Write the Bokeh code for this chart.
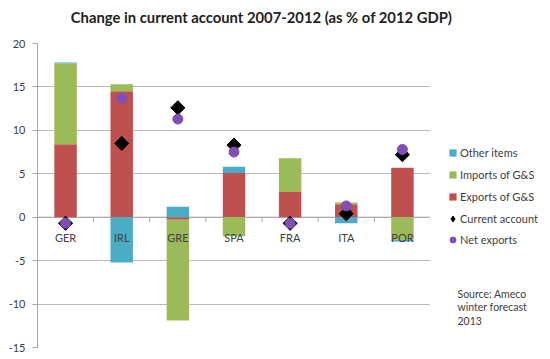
from bokeh.plotting import figure
from bokeh.layouts import row, column
from bokeh.models import (ColumnDataSource, FactorRange, Range1d, FixedTicker,
                          Legend, LegendItem, Label, Span)
from bokeh.core.properties import value
from bokeh.embed import file_html
from bokeh.resources import INLINE
import math

cats = ["GER", "IRL", "GRE", "SPA", "FRA", "ITA", "POR"]
exports = [8.4, 14.5, -0.3, 5.1, 2.9, 1.5, 5.7]
imports = [9.3, 0.8, -11.6, -2.2, 3.9, 0.2, -2.6]
other = [0.1, -5.2, 1.2, 0.7, 0.0, -0.7, -0.2]
current = [-0.7, 8.5, 12.6, 8.3, -0.7, 0.4, 7.2]
net = [-0.7, 13.7, 11.3, 7.5, -0.7, 1.3, 7.8]
yticks = [-15, -10, -5, 0, 5, 10, 15, 20]
title_text = "Change in current account 2007-2012 (as % of 2012 GDP)"
source_text = "Source: Ameco\nwinter forecast\n2013"

FONT = "Lato"
TXT = "#404040"
C_EXP, C_IMP, C_OTH, C_NET = "#C0504D", "#9BBB59", "#4BACC6", "#7F4FB5"

pos = [0.0] * len(cats)
neg = [0.0] * len(cats)


def stack(vals):
    b, t = [], []
    for i, v in enumerate(vals):
        if v >= 0:
            b.append(pos[i]); pos[i] += v; t.append(pos[i])
        else:
            b.append(neg[i]); neg[i] += v; t.append(neg[i])
    return b, t


eb, et = stack(exports)
ib, it = stack(imports)
ob, ot = stack(other)


def blank(w, h):
    f = figure(x_range=Range1d(0, 1), y_range=Range1d(0, 1), width=w, height=h,
               output_backend="svg", toolbar_location=None,
               min_border_left=0, min_border_right=0, min_border_top=0,
               min_border_bottom=0)
    f.axis.visible = False
    f.grid.visible = False
    f.outline_line_color = None
    return f


# Title strip
TH = 30
t = blank(550, TH)
t.add_layout(Label(x=261, y=TH - 16, x_units="screen", y_units="screen",
                   text=title_text, text_align="center", text_baseline="middle",
                   text_font=FONT, text_font_size="14.8px", text_font_style="bold",
                   text_color="#222222"))

# Main chart
H = 359 - TH
p = figure(x_range=FactorRange(*cats), y_range=Range1d(-15, 20),
           width=430, height=H, output_backend="svg", toolbar_location=None,
           min_border_left=37, min_border_right=0, min_border_top=13,
           min_border_bottom=12)
p.outline_line_color = None
p.background_fill_color = "white"
p.border_fill_color = "white"

p.xaxis.visible = False
p.xgrid.visible = False
p.ygrid.ticker = FixedTicker(ticks=yticks)
p.ygrid.grid_line_color = "#bababa"
p.yaxis.ticker = FixedTicker(ticks=yticks)
p.yaxis.major_label_overrides = {v: str(v) for v in yticks}
p.yaxis.axis_line_color = "#a6a6a6"
p.yaxis.major_tick_line_color = "#a6a6a6"
p.yaxis.major_tick_out = 5
p.yaxis.major_tick_in = 0
p.yaxis.minor_tick_line_color = None
p.yaxis.major_label_text_font = FONT
p.yaxis.major_label_text_font_size = "11px"
p.yaxis.major_label_text_color = TXT
p.yaxis.major_label_standoff = 7

p.add_layout(Span(location=0, dimension="width", line_color="#a6a6a6",
                  line_width=1, level="underlay"))

src = ColumnDataSource(dict(cat=cats, eb=eb, et=et, ib=ib, it=it, ob=ob, ot=ot,
                            cur=current, net=net, zero=[0] * len(cats)))

p.vbar(x="cat", bottom="eb", top="et", width=0.4, source=src,
       fill_color=C_EXP, line_color=None)
p.vbar(x="cat", bottom="ib", top="it", width=0.4, source=src,
       fill_color=C_IMP, line_color=None)
p.vbar(x="cat", bottom="ob", top="ot", width=0.4, source=src,
       fill_color=C_OTH, line_color=None)

bounds = list(range(len(cats) + 1))
p.segment(x0=bounds, y0=[0] * len(bounds), x1=bounds, y1=[-0.55] * len(bounds),
          line_color="#a6a6a6", line_width=1)

p.scatter(x="cat", y="cur", source=src, marker="square", angle=math.pi / 4,
          size=10, fill_color="black", line_color="black")
p.scatter(x="cat", y="net", source=src, marker="circle", size=10,
          fill_color=C_NET, line_color=C_NET)

p.text(x="cat", y="zero", text="cat", source=src, text_align="center",
       text_baseline="middle", y_offset=20, text_font=value(FONT),
       text_font_size="11px", text_color=TXT)

# Legend / source panel on the right
q = blank(120, H)
e = dict(x=[0.5], bottom=[0], top=[0], width=0.01)
l_oth = q.vbar(**e, fill_color=C_OTH, line_color=None)
l_imp = q.vbar(**e, fill_color=C_IMP, line_color=None)
l_exp = q.vbar(**e, fill_color=C_EXP, line_color=None)
l_cur = q.scatter(x=[0.5], y=[0.5], size=0, marker="diamond",
                  fill_color="black", line_color="black")
l_net = q.scatter(x=[0.5], y=[0.5], size=0, marker="circle",
                  fill_color=C_NET, line_color=C_NET)

common = dict(padding=0, margin=0, border_line_color=None, background_fill_alpha=0,
              label_text_font=FONT, label_text_font_size="11px",
              label_text_color=TXT)
leg1 = Legend(items=[LegendItem(label="Other items", renderers=[l_oth]),
                     LegendItem(label="Imports of G&S", renderers=[l_imp]),
                     LegendItem(label="Exports of G&S", renderers=[l_exp])],
              location=(18, 144), glyph_width=9, glyph_height=9, label_height=9,
              spacing=9, label_standoff=3, **common)
leg2 = Legend(items=[LegendItem(label="Current account", renderers=[l_cur]),
                     LegendItem(label="Net exports", renderers=[l_net])],
              location=(15, 100), glyph_width=15, glyph_height=15, label_height=15,
              spacing=6, label_standoff=0, **common)
q.add_layout(leg1)
q.add_layout(leg2)

q.add_layout(Label(x=27, y=60, x_units="screen", y_units="screen",
                   text=source_text, text_baseline="top",
                   text_font=FONT, text_font_size="10.5px", text_color=TXT,
                   text_line_height=1.15))

open("out.html", "w").write(file_html(column(t, row(p, q)), INLINE))
